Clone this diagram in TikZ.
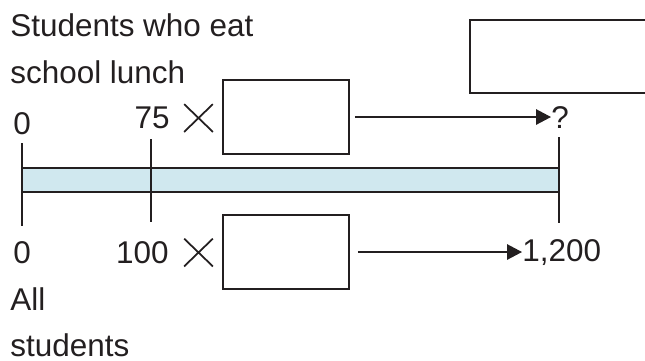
\documentclass[tikz,border=0pt]{standalone}
\usepackage{fontspec}
\setmainfont{Liberation Sans}
\usetikzlibrary{arrows.meta, shapes.misc}
\definecolor{ink}{RGB}{35,31,32}
\definecolor{barblue}{RGB}{208,232,239}
\tikzstyle{word} = [inner sep=0pt, text=ink, font=\fontsize{17.9}{20}\selectfont]
\tikzstyle{blank} = [rectangle, minimum width=2.52cm, minimum height=1.48cm, draw=ink, line width=1.1pt]
\tikzstyle{times} = [cross out, draw=ink, line width=1pt, minimum width=0.54cm, minimum height=0.52cm, inner sep=0pt]
\tikzstyle{arrow} = [-{Triangle[length=0.3cm,width=0.31cm]}, draw=ink, line width=0.8pt]
\tikzstyle{tick} = [draw=ink, line width=1.1pt]
\tikzstyle{barline} = [draw=ink, line width=1.4pt]
\begin{document}
\begin{tikzpicture}[x=0.02cm, y=-0.02cm]
	\useasboundingbox (0,0) rectangle (645,360);
	\clip (0,0) rectangle (645,360);
	% labels on the left
	\node (lunchA) [word, anchor=base west] at (10,36) {Students who eat};
	\node (lunchB) [word, anchor=base west] at (10,83) {school lunch};
	\node (allA) [word, anchor=base west] at (10,310) {All};
	\node (allB) [word, anchor=base west] at (10,356) {students};
	% numbers at the ticks
	\node (zeroT) [word, anchor=base] at (22,134) {0};
	\node (sevfive) [word, anchor=base east] at (170,128) {75};
	\node (zeroB) [word, anchor=base] at (22,263) {0};
	\node (hundred) [word, anchor=base east] at (169,263) {100};
	\node (q) [word, anchor=base west] at (551,128) {?};
	\node (total) [word, anchor=base west] at (522,261) {1,200};
	% multiply signs and blanks
	\node (timesT) [times] at (198.5,118) {};
	\node (timesB) [times] at (198.5,252.5) {};
	\node (boxT) [blank] at (286,117) {};
	\node (boxB) [blank] at (286,252) {};
	\node (answer) [blank, minimum width=4.6cm, minimum height=1.46cm] at (585,56.5) {};
	% tape
	\fill[barblue] (22,168) rectangle (559,192);
	\draw[barline] (22,168) -- (559,168) (22,192) -- (559,192);
	\foreach \x/\a/\b in {22/143/226, 151/139/222, 559/137/223}
		\draw[tick] (\x,\a) -- (\x,\b);
	% arrows
	\draw[arrow, shorten <=0.1cm] (boxT.east) -- (boxT.east -| q.west);
	\draw[arrow, shorten <=0.16cm] (boxB.east) -- (boxB.east -| total.west);
\end{tikzpicture}
\end{document}
